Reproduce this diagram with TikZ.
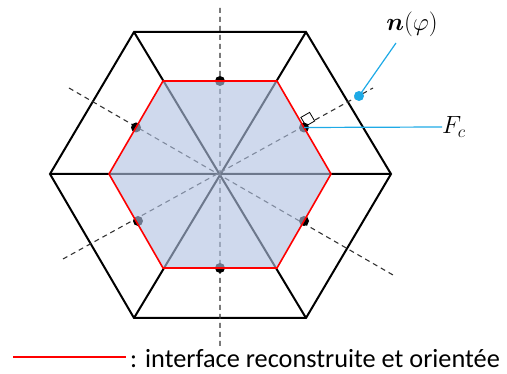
\documentclass[tikz,border=0pt]{standalone}
\usepackage{amsmath}
\usepackage{fontspec}
\newfontfamily\legendfont{Carlito}
\usetikzlibrary{positioning,calc}

\definecolor{cellfill}{RGB}{177,194,226}
\definecolor{leadblue}{RGB}{30,170,230}

\begin{document}
\begin{tikzpicture}[x=1pt,y=-1pt,
        mesh/.style={line width=2pt,black,line join=miter},
        axisline/.style={line width=1.1pt,black!80,dash pattern=on 5pt off 4pt},
        facedot/.style={fill=black},
        iface/.style={red,line width=1.6pt,line join=miter},
        leader/.style={leadblue,line width=1.2pt},
        lab/.style={font=\fontsize{25}{28}\selectfont,inner sep=0pt}]
    \useasboundingbox (0,0) rectangle (507,374);
    % outer cell and inner interface vertices
    \coordinate (C) at (220,174);
    \coordinate (o1) at (391,174); \coordinate (o2) at (306,32);  \coordinate (o3) at (134,32);
    \coordinate (o4) at (50,174);  \coordinate (o5) at (134,318); \coordinate (o6) at (306,318);
    \coordinate (i1) at (331,174); \coordinate (i2) at (277,81);  \coordinate (i3) at (163,81);
    \coordinate (i4) at (109,174); \coordinate (i5) at (163,268); \coordinate (i6) at (277,268);
    % face centres
    \coordinate (m1) at ($(i1)!0.5!(i2)$); \coordinate (m2) at ($(i2)!0.5!(i3)$);
    \coordinate (m3) at ($(i3)!0.5!(i4)$); \coordinate (m4) at ($(i4)!0.5!(i5)$);
    \coordinate (m5) at ($(i5)!0.5!(i6)$); \coordinate (m6) at ($(i6)!0.5!(i1)$);
    % mesh
    \draw[mesh] (o1) -- (o2) -- (o3) -- (o4) -- (o5) -- (o6) -- cycle;
    \draw[mesh] (o1) -- (o4) (o2) -- (o5) (o3) -- (o6);
    % normal directions
    \coordinate (a1) at (220,8);  \coordinate (b1) at (220,347);
    \coordinate (a2) at (69,88);  \coordinate (b2) at (393,275);
    \coordinate (a3) at (63,259); \coordinate (b3) at (373,88);
    \draw[axisline] (a1) -- (b1) (a2) -- (b2) (a3) -- (b3);
    % right angle
    \draw[line width=0.8pt,fill=white] (306,126) -- ++(8.7,-5) -- ++(-5.1,-8.6) -- ++(-8.7,5) -- cycle;
    \foreach \k in {1,2,3,5,6}
        \fill[facedot] (m\k) circle (5);
    \fill[facedot] ($(m4)+(2,0)$) circle (5);
    % reconstructed interface
    \fill[cellfill,fill opacity=0.62] (i1) -- (i2) -- (i3) -- (i4) -- (i5) -- (i6) -- cycle;
    \draw[iface] (i1) -- (i2) -- (i3) -- (i4) -- (i5) -- (i6) -- cycle;
    % labels
    \fill[leadblue] (359,96) coordinate (ndot) circle (5);
    \coordinate (nend) at (396,43);
    \node[lab,font=\fontsize{29}{32}\selectfont] (nlab) at (412,24) {$\boldsymbol{n}(\varphi)$};
    \draw[leader] (ndot) -- (nend);
    \coordinate (fcdot) at (m1);
    \node[lab,anchor=west] (fclab) at (442,127) {$F_c$};
    \draw[leader] (fcdot) -- (fclab.west);
    % legend
    \coordinate (l1) at (13,357); \coordinate (l2) at (126,357);
    \draw[red,line width=2.2pt] (l1) -- (l2);
    \node[anchor=base west,inner sep=0pt,font=\legendfont\fontsize{26.3}{28}\selectfont] (legend) at (130,367.5) {: interface reconstruite et orientée};
\end{tikzpicture}
\end{document}
